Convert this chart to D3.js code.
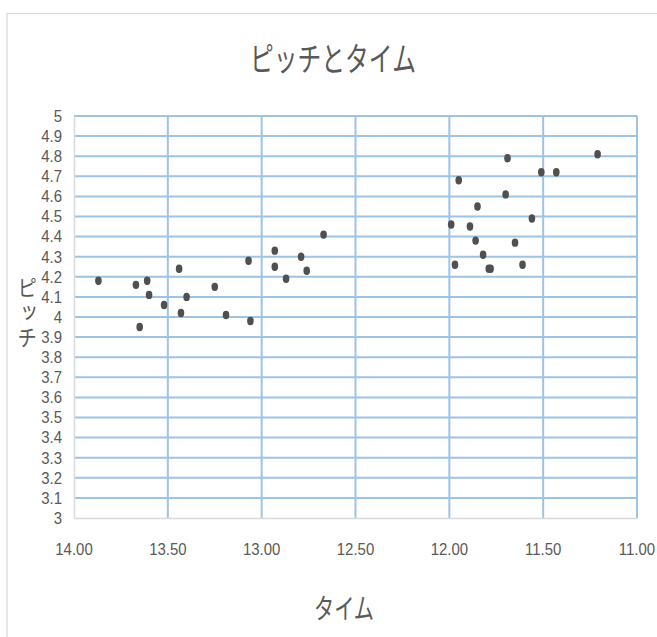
<!DOCTYPE html>
<html>
<head>
<meta charset="utf-8">
<script src="https://cdn.jsdelivr.net/npm/d3@7"></script>
<style>
html,body{margin:0;padding:0;background:#fff;}
svg{display:block;}
</style>
</head>
<body>
<svg id="chart" width="657" height="637"></svg>
<script>
const title = "ピッチとタイム";
const xTitle = "タイム";
const yTitle = "ピッチ";
const times = [13.87,13.67,13.61,13.60,13.65,13.52,13.44,13.43,13.40,13.25,13.19,13.07,13.06,12.93,12.93,12.87,12.79,12.76,12.67,
               11.69,11.21,11.51,11.43,11.95,11.70,11.85,11.56,11.99,11.89,11.86,11.65,11.82,11.97,11.79,11.78,11.61];
const pitches = [4.18,4.16,4.18,4.11,3.95,4.06,4.24,4.02,4.10,4.15,4.01,4.28,3.98,4.33,4.25,4.19,4.30,4.23,4.41,
                 4.79,4.81,4.72,4.72,4.68,4.61,4.55,4.49,4.46,4.45,4.38,4.37,4.31,4.26,4.24,4.24,4.26];
const xTicks = [14.0,13.5,13.0,12.5,12.0,11.5,11.0];
const yTicks = [3.0,3.1,3.2,3.3,3.4,3.5,3.6,3.7,3.8,3.9,4.0,4.1,4.2,4.3,4.4,4.5,4.6,4.7,4.8,4.9,5.0];

const svg = d3.select("#chart");
const L = 74, R = 637, T = 116, B = 518;
const x = d3.scaleLinear().domain([14, 11]).range([L, R]);
const y = d3.scaleLinear().domain([3, 5]).range([B, T]);
const txtCol = "#595959";
const gridCol = "#9dc3e6";

// chart border
svg.append("rect").attr("x", 7).attr("y", 13.5).attr("width", 700).attr("height", 700)
  .attr("fill", "none").attr("stroke", "#d9d9d9").attr("stroke-width", 1.2);

// gridlines
svg.append("g").selectAll("line.h").data(yTicks.filter(d => d > 3)).join("line")
  .attr("x1", L).attr("x2", R).attr("y1", d => y(d)).attr("y2", d => y(d))
  .attr("stroke", gridCol).attr("stroke-width", 2);
svg.append("g").selectAll("line.v").data(xTicks.filter(d => d < 14)).join("line")
  .attr("y1", T).attr("y2", B).attr("x1", d => x(d)).attr("x2", d => x(d))
  .attr("stroke", gridCol).attr("stroke-width", 2);

// axes (via d3 axis, styled)
const xAxis = svg.append("g").attr("transform", `translate(0,${B})`)
  .call(d3.axisBottom(x).tickValues(xTicks).tickSize(0).tickPadding(0).tickFormat(d3.format(".2f")));
xAxis.select(".domain").attr("stroke", "#d9d9d9").attr("stroke-width", 1.5);
xAxis.selectAll("text").remove();
const yAxis = svg.append("g").attr("transform", `translate(${L},0)`)
  .call(d3.axisLeft(y).tickValues(yTicks).tickSize(0).tickPadding(0));
yAxis.select(".domain").attr("stroke", "#d9d9d9").attr("stroke-width", 1.5);
yAxis.selectAll("text").remove();

const numFont = "'Liberation Sans Narrow','Liberation Sans',Arial,sans-serif";
const cjkFont = "'Noto Sans CJK JP','Noto Sans CJK SC',sans-serif";

function sText(g, str, px, py, size, sx, anchor, font) {
  return g.append("text")
    .attr("transform", `translate(${px},${py}) scale(${sx},1)`)
    .attr("text-anchor", anchor)
    .attr("dominant-baseline", "central")
    .attr("font-family", font)
    .attr("font-size", size)
    .attr("fill", txtCol)
    .text(str);
}

const labels = svg.append("g");
xTicks.forEach(d => sText(labels, d3.format(".2f")(d), x(d), 549, 17, 0.88, "middle", numFont));
yTicks.forEach(d => sText(labels, d3.format("")(+d.toFixed(1)), 62, y(d), 17, 0.88, "end", numFont));

// title
sText(svg, title, 333, 57, 33, 0.72, "middle", cjkFont);
// x axis title
sText(svg, xTitle, 344, 607, 28, 0.72, "middle", cjkFont);
// y axis title: vertical (stacked) writing, one text element
svg.append("text")
  .attr("transform", "translate(27,313) scale(0.85,1)")
  .attr("style", "writing-mode: vertical-rl; text-orientation: upright;")
  .attr("text-anchor", "middle")
  .attr("font-family", cjkFont)
  .attr("font-size", 23)
  .attr("letter-spacing", 2)
  .attr("fill", txtCol)
  .text(yTitle);

// points
svg.append("g").selectAll("ellipse").data(times.map((t, i) => [t, pitches[i]])).join("ellipse")
  .attr("cx", d => x(d[0])).attr("cy", d => y(d[1]))
  .attr("rx", 3.3).attr("ry", 4.2)
  .attr("fill", "#505050");
</script>
</body>
</html>
